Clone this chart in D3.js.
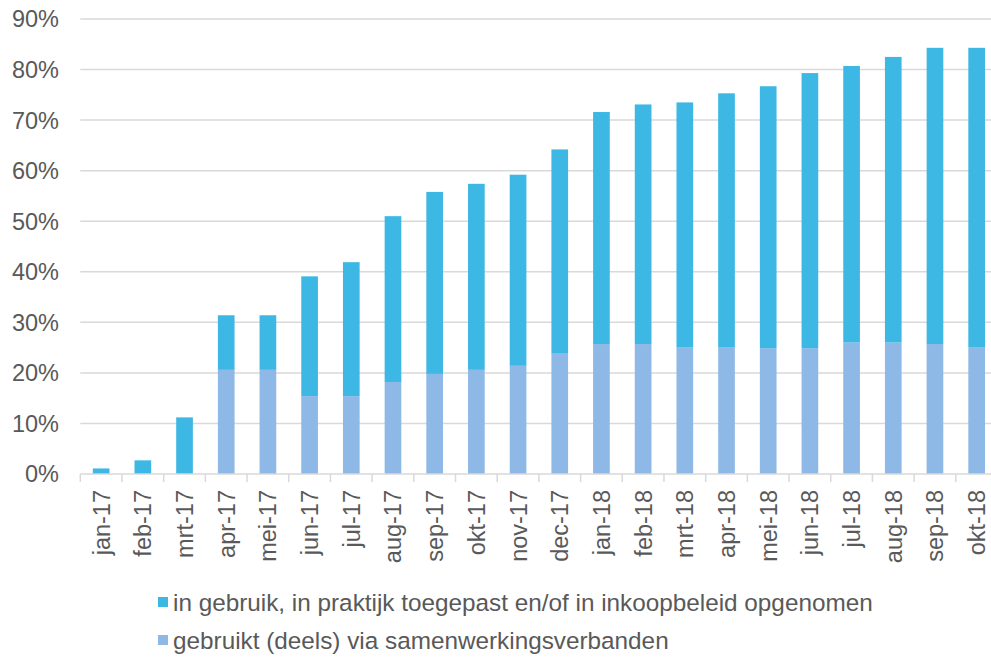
<!DOCTYPE html>
<html>
<head>
<meta charset="utf-8">
<script src="https://cdn.jsdelivr.net/npm/d3@7"></script>
<style>
  body { margin: 0; background: #fff; }
  svg text { font-family: "Liberation Sans", Arial, sans-serif; fill: #595959; }
</style>
</head>
<body>
<div id="chart"></div>
<script>
var months = ["jan-17","feb-17","mrt-17","apr-17","mei-17","jun-17","jul-17","aug-17","sep-17","okt-17","nov-17","dec-17",
              "jan-18","feb-18","mrt-18","apr-18","mei-18","jun-18","jul-18","aug-18","sep-18","okt-18"];
// gebruikt (deels) via samenwerkingsverbanden
var viaSamenwerking = [0,0,0,20.6,20.6,15.4,15.4,18.2,19.8,20.6,21.4,23.8,25.7,25.7,25.1,25.1,24.9,24.9,26.0,26.0,25.7,25.1];
// in gebruik, in praktijk toegepast en/of in inkoopbeleid opgenomen
var inGebruik = [1.1,2.7,11.2,10.8,10.8,23.7,26.5,32.8,36.0,36.8,37.8,40.4,45.9,47.4,48.4,50.2,51.8,54.4,54.7,56.5,58.6,59.2];
var yTicks = [0,10,20,30,40,50,60,70,80,90];
var seriesNames = ["gebruikt (deels) via samenwerkingsverbanden", "in gebruik, in praktijk toegepast en/of in inkoopbeleid opgenomen"];

var width = 991, height = 658;
var colors = { samen: "#8eb8e5", gebruik: "#3db8e4" };

var svg = d3.select("#chart").append("svg")
  .attr("width", width)
  .attr("height", height);

var x = d3.scaleBand()
  .domain(months)
  .range([80.3, 997.5])
  .paddingInner(0.6)
  .paddingOuter(0.3);

var y = d3.scaleLinear()
  .domain([0, 90])
  .range([474, 19]);

// gridlines
svg.append("g")
  .selectAll("line")
  .data(yTicks.slice(1))
  .enter().append("line")
  .attr("x1", 80.3)
  .attr("x2", width)
  .attr("y1", function(d) { return y(d); })
  .attr("y2", function(d) { return y(d); })
  .attr("stroke", "#d9d9d9")
  .attr("stroke-width", 1.5);

// y labels
svg.append("g")
  .selectAll("text")
  .data(yTicks)
  .enter().append("text")
  .attr("x", 59)
  .attr("y", function(d) { return y(d); })
  .attr("dy", "0.36em")
  .attr("text-anchor", "end")
  .style("font-size", "23.5px")
  .text(function(d) { return d + "%"; });

var table = months.map(function(m, i) {
  return { month: m, samen: viaSamenwerking[i], gebruik: inGebruik[i] };
});

var stack = d3.stack().keys(["samen", "gebruik"]);
var layers = stack(table);

svg.append("g")
  .selectAll("g")
  .data(layers)
  .enter().append("g")
  .attr("fill", function(d) { return colors[d.key]; })
  .selectAll("rect")
  .data(function(d) { return d; })
  .enter().append("rect")
  .attr("x", function(d) { return x(d.data.month); })
  .attr("width", x.bandwidth())
  .attr("y", function(d) { return y(d[1]); })
  .attr("height", function(d) { return y(d[0]) - y(d[1]); });

// x axis
var xAxis = svg.append("g")
  .attr("transform", "translate(0," + y(0) + ")");

xAxis.append("line")
  .attr("x1", 80.3)
  .attr("x2", width)
  .attr("stroke", "#d9d9d9")
  .attr("stroke-width", 1.5);

var tickPos = months.map(function(m) { return x(m) - x.step() * 0.3; });
xAxis.selectAll(".tk")
  .data(tickPos)
  .enter().append("line")
  .attr("class", "tk")
  .attr("x1", function(d) { return d; })
  .attr("x2", function(d) { return d; })
  .attr("y1", 0)
  .attr("y2", 8)
  .attr("stroke", "#d9d9d9")
  .attr("stroke-width", 1.5);

xAxis.selectAll("text")
  .data(months)
  .enter().append("text")
  .attr("transform", function(d) {
    return "translate(" + (x(d) + x.bandwidth() / 2) + ",16) rotate(-90)";
  })
  .attr("dy", "0.36em")
  .attr("text-anchor", "end")
  .style("font-size", "23.5px")
  .text(function(d) { return d; });

// legend
var legendItems = [
  { name: seriesNames[1], color: colors.gebruik, y: 602 },
  { name: seriesNames[0], color: colors.samen, y: 640 }
];

var legend = svg.append("g")
  .selectAll("g")
  .data(legendItems)
  .enter().append("g")
  .attr("transform", function(d) { return "translate(158," + d.y + ")"; });

legend.append("rect")
  .attr("x", 0)
  .attr("y", -5)
  .attr("width", 10)
  .attr("height", 10)
  .attr("fill", function(d) { return d.color; });

legend.append("text")
  .attr("x", 15)
  .attr("y", 0)
  .attr("dy", "0.36em")
  .style("font-size", "24.3px")
  .text(function(d) { return d.name; });
</script>
</body>
</html>
